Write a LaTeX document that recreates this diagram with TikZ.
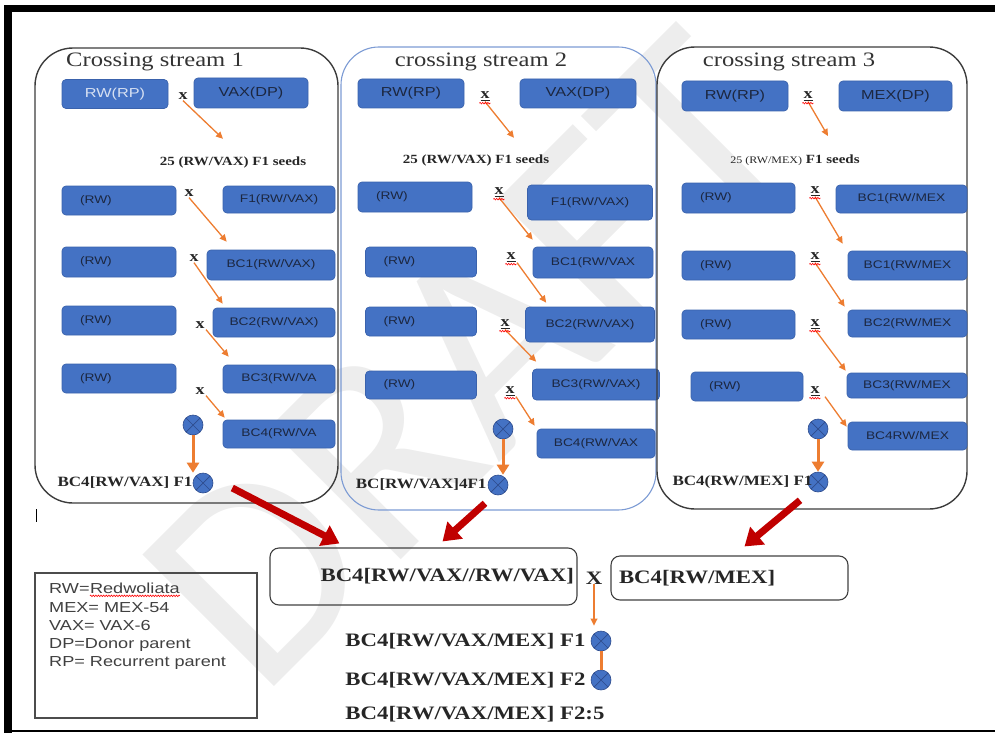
\documentclass[tikz,border=0pt]{standalone}
\usepackage{fontspec}
\setmainfont{Liberation Serif}[FakeStretch=1.2]
\newfontfamily\boxfont{Liberation Sans}[FakeStretch=1.25]
\newfontfamily\markfont{Carlito}
\usepackage{tikz}
\usetikzlibrary{positioning,arrows.meta,decorations.pathmorphing}
\definecolor{boxblue}{HTML}{4472C4}
\definecolor{boxedge}{HTML}{3A62AC}
\definecolor{boxtext}{HTML}{1C2740}
\definecolor{paletext}{HTML}{D6E0F2}
\definecolor{crossorange}{HTML}{ED7D31}
\definecolor{circedge}{HTML}{2E4C8C}
\definecolor{arrowred}{HTML}{C00000}
\definecolor{streamline}{HTML}{3C3C3C}
\definecolor{streamblue}{HTML}{7C9BD4}
\newcommand{\spellmark}[1]{
\draw[spell] ([yshift=-1.5pt]#1.south west) -- ([yshift=-1.5pt]#1.south east);
}

\begin{document}
\begin{tikzpicture}[x=1pt, y=-1pt,
  inbox/.style={draw=boxedge, fill=boxblue, line width=0.7pt, rounded corners=4pt,
    inner sep=0pt, text=boxtext, font=\boxfont\fontsize{11}{12}\selectfont},
  sized/.style 2 args={minimum width=#1pt, minimum height=#2pt},
  topbox/.style={inbox, font=\boxfont\fontsize{13}{15}\selectfont},
  rwbox/.style={inbox, align=left, inner xsep=18pt, text width=#1pt},
  streamframe/.style={draw=streamline, line width=1.4pt, rounded corners=38pt},
  title/.style={text=black!80, font=\fontsize{20.5}{22}\selectfont},
  seedtext/.style={text=black!85, font=\bfseries\fontsize{12.5}{14}\selectfont},
  crossmark/.style={inner sep=1pt, text=black!85, font=\bfseries\fontsize{15}{15}\selectfont},
  streamlabel/.style={inner sep=0pt, text=black!85, font=\bfseries\fontsize{14.2}{16}\selectfont},
  botlabel/.style={inner sep=0pt, text=black!85, font=\bfseries\fontsize{19}{21}\selectfont},
  botbox/.style={draw=black!75, line width=1.1pt, rounded corners=9pt, inner ysep=0pt,
    text=black!85, font=\bfseries\fontsize{19}{21}\selectfont},
  seedmark/.style={circle, fill=boxblue, draw=circedge, line width=0.6pt,
    minimum size=20pt, inner sep=0pt,
    path picture={\draw[circedge, line width=0.7pt]
      (path picture bounding box.north west) -- (path picture bounding box.south east)
      (path picture bounding box.south west) -- (path picture bounding box.north east);}},
  thinarrow/.style={draw=crossorange, line width=1.3pt, -{Triangle[length=7pt,width=6.5pt]}},
  fatarrow/.style={draw=crossorange, line width=3pt, -{Triangle[length=10pt,width=12pt]}},
  redarrow/.style={draw=arrowred, line width=7pt, -{Triangle[length=17pt,width=22pt]}},
  spell/.style={draw=red, line width=0.6pt, decorate,
    decoration={snake, amplitude=0.8pt, segment length=2.6pt}},
  legendtext/.style={anchor=west, inner sep=0pt, text=black!75,
    font=\boxfont\fontsize{14.5}{16}\selectfont},
  watermark/.style={text=black!7, rotate=45, inner sep=0pt,
    font=\markfont\fontsize{290}{290}\selectfont}]
\useasboundingbox (0,0) rectangle (995,733);
\node[watermark] at (470,360) (wm) {DRAFT};
% page frame
\draw[line width=7.5pt] (995,8.5) -- (8,8.5) -- (8,733);
\draw[line width=2.5pt] (8,731) -- (995,731);
\draw[line width=0.8pt] (36,509) -- (36,522);

% crossing stream 1
\draw[streamframe] (35,48) rectangle (338,503);
\node[title] at (155,62) (s1title) {Crossing stream 1};
\node[topbox, sized={106}{29}, text=paletext] at (115,94) (s1rp) {RW(RP)};
\node[topbox, sized={114}{30}] at (251,93) (s1dp) {VAX(DP)};
\node[crossmark] at (183,96) (s1x0) {x};
\node[seedtext] at (233,162) (s1seeds) {25 (RW/VAX) F1 seeds};
\node[rwbox=78, minimum height=29pt] at (119,200.5) (s1rw1) {(RW)};
\node[inbox, sized={112}{27}] at (279,199.5) (s1f1) {F1(RW/VAX)};
\node[crossmark] at (189,193) (s1x1) {x};
\node[rwbox=78, minimum height=30pt] at (119,262) (s1rw2) {(RW)};
\node[inbox, sized={128}{30}] at (271,265) (s1bc1) {BC1(RW/VAX)};
\node[crossmark] at (194,258) (s1x2) {x};
\node[rwbox=78, minimum height=29pt] at (119,320.5) (s1rw3) {(RW)};
\node[inbox, sized={122}{29}] at (274,322.5) (s1bc2) {BC2(RW/VAX)};
\node[crossmark] at (200,325) (s1x3) {x};
\node[rwbox=78, minimum height=29pt] at (119,378.5) (s1rw4) {(RW)};
\node[inbox, sized={112}{28}] at (279,379) (s1bc3) {BC3(RW/VA};
\node[crossmark] at (200,391) (s1x4) {x};
\node[inbox, sized={112}{28}] at (279,434) (s1bc4) {BC4(RW/VA};
\node[seedmark] at (193,425) (s1c1) {};
\node[seedmark] at (203,483) (s1c2) {};
\node[streamlabel, left=0pt of s1c2] (s1lab) {BC4[RW/VAX] F1};
\draw[thinarrow] (s1x0.south) -- ([xshift=-10pt,yshift=14pt]s1seeds.north);
\draw[thinarrow] (s1x1.south) -- ([xshift=20pt,yshift=8pt]s1bc1.north west);
\draw[thinarrow] (s1x2.south) -- ([xshift=10pt,yshift=4pt]s1bc2.north west);
\draw[thinarrow] ([xshift=6pt]s1x3.south) -- ([xshift=6pt,yshift=8pt]s1bc3.north west);
\draw[thinarrow] ([xshift=6pt]s1x4.south) -- ([xshift=2pt,yshift=2pt]s1bc4.north west);
\draw[fatarrow] (s1c1.south) -- (s1c1.south |- s1c2.north);

% crossing stream 2
\draw[streamframe, draw=streamblue, line width=1.1pt] (341,47) rectangle (656,510);
\node[title] at (481,62) (s2title) {crossing stream 2};
\node[topbox, sized={106}{29}] at (411,93.5) (s2rp) {RW(RP)};
\node[topbox, sized={116}{29}] at (578,93.5) (s2dp) {VAX(DP)};
\node[crossmark] at (485,96) (s2x0) {\underline{x}};
\node[seedtext] at (476,160) (s2seeds) {25 (RW/VAX) F1 seeds};
\node[rwbox=78, minimum height=30pt] at (415,197) (s2rw1) {(RW)};
\node[inbox, sized={125}{35}] at (590,202.5) (s2f1) {F1(RW/VAX)};
\node[crossmark] at (499,192) (s2x1) {\underline{x}};
\node[rwbox=75, minimum height=30pt] at (421,262) (s2rw2) {(RW)};
\node[inbox, sized={120}{31}] at (593,262.5) (s2bc1) {BC1(RW/VAX};
\node[crossmark] at (511,257) (s2x2) {\underline{x}};
\node[rwbox=75, minimum height=29pt] at (421,321.5) (s2rw3) {(RW)};
\node[inbox, sized={129}{35}] at (590,324.5) (s2bc2) {BC2(RW/VAX)};
\node[crossmark] at (505,324) (s2x3) {\underline{x}};
\node[rwbox=75, minimum height=28pt] at (421,385) (s2rw4) {(RW)};
\node[inbox, sized={127}{31}] at (596,384.5) (s2bc3) {BC3(RW/VAX)};
\node[crossmark] at (510,391) (s2x4) {\underline{x}};
\node[inbox, sized={118}{29}] at (596,443.5) (s2bc4) {BC4(RW/VAX};
\node[seedmark] at (503,429) (s2c1) {};
\node[seedmark] at (498,485) (s2c2) {};
\node[streamlabel, left=1pt of s2c2] (s2lab) {BC[RW/VAX]4F1};
\draw[thinarrow] (s2x0.south) -- ([xshift=38pt,yshift=13pt]s2seeds.north);
\draw[thinarrow] (s2x1.south) -- ([xshift=0pt,yshift=7pt]s2bc1.north west);
\draw[thinarrow] ([xshift=6pt]s2x2.south) -- ([xshift=21pt,yshift=4pt]s2bc2.north west);
\draw[thinarrow] (s2x3.south) -- ([xshift=4pt,yshift=7pt]s2bc3.north west);
\draw[thinarrow] ([xshift=6pt]s2x4.south) -- ([xshift=-2pt,yshift=3pt]s2bc4.north west);
\draw[fatarrow] (s2c1.south) -- (s2c1.south |- s2c2.north);
\spellmark{s2x0}
\spellmark{s2x1}
\spellmark{s2x2}
\spellmark{s2x3}
\spellmark{s2x4}

% crossing stream 3
\draw[streamframe] (657,47) rectangle (967,509);
\node[title] at (789,62) (s3title) {crossing stream 3};
\node[topbox, sized={106}{30}] at (735,96) (s3rp) {RW(RP)};
\node[topbox, sized={113}{30}] at (895.5,96) (s3dp) {MEX(DP)};
\node[crossmark] at (808,96) (s3x0) {\underline{x}};
\node[seedtext] at (795,160) (s3seeds) {{\mdseries\fontsize{10}{12}\selectfont 25 (RW/MEX)} F1 seeds};
\node[rwbox=77, minimum height=30pt] at (738.5,198) (s3rw1) {(RW)};
\node[inbox, sized={131}{28}] at (901.5,199) (s3bc1) {BC1(RW/MEX};
\node[crossmark] at (815,191) (s3x1) {\underline{x}};
\node[rwbox=77, minimum height=29pt] at (738.5,265.5) (s3rw2) {(RW)};
\node[inbox, sized={119}{29}] at (907.5,265.5) (s3bc1b) {BC1(RW/MEX};
\node[crossmark] at (815,257) (s3x2) {\underline{x}};
\node[rwbox=77, minimum height=29pt] at (738.5,324.5) (s3rw3) {(RW)};
\node[inbox, sized={119}{27}] at (907.5,323.5) (s3bc2) {BC2(RW/MEX};
\node[crossmark] at (815,324) (s3x3) {\underline{x}};
\node[rwbox=76, minimum height=29pt] at (747,386.5) (s3rw4) {(RW)};
\node[inbox, sized={120}{25}] at (907,385.5) (s3bc3) {BC3(RW/MEX};
\node[crossmark] at (815,391) (s3x4) {\underline{x}};
\node[inbox, sized={119}{28}] at (907.5,436) (s3bc4) {BC4RW/MEX};
\node[seedmark] at (818,429) (s3c1) {};
\node[seedmark] at (818,482) (s3c2) {};
\node[streamlabel, left=-5pt of s3c2] (s3lab) {BC4(RW/MEX] F1};
\draw[thinarrow] (s3x0.south) -- ([xshift=33pt,yshift=15pt]s3seeds.north);
\draw[thinarrow] (s3x1.south) -- ([xshift=-5pt,yshift=7pt]s3bc1b.north west);
\draw[thinarrow] (s3x2.south) -- ([xshift=-3pt,yshift=3pt]s3bc2.north west);
\draw[thinarrow] (s3x3.south) -- ([xshift=-1pt,yshift=2pt]s3bc3.north west);
\draw[thinarrow] ([xshift=10pt]s3x4.south) -- ([xshift=-1pt,yshift=-5pt]s3bc4.north west);
\draw[fatarrow] (s3c1.south) -- (s3c1.south |- s3c2.north);
\spellmark{s3x0}
\spellmark{s3x1}
\spellmark{s3x2}
\spellmark{s3x3}
\spellmark{s3x4}

% final crosses
\node[botbox, minimum height=57pt, text width=301pt, align=right, inner xsep=3pt]
  at (423.5,576.5) (bx1) {BC4[RW/VAX//RW/VAX]};
\node[botbox, minimum height=44pt, text width=221pt, align=left, inner xsep=8pt]
  at (729.5,578) (bx2) {BC4[RW/MEX]};
\node[botlabel] at (594,578) (bX) {X};
\node[seedmark] at (601,641) (bc1) {};
\node[seedmark] at (601,680) (bc2) {};
\node[botlabel, left=5pt of bc1] (bl1) {BC4[RW/VAX/MEX] F1};
\node[botlabel, left=5pt of bc2] (bl2) {BC4[RW/VAX/MEX] F2};
\node[botlabel, anchor=west] at ([yshift=-34pt]bl2.west) (bl3) {BC4[RW/VAX/MEX] F2:5};
\draw[thinarrow, line width=2pt, shorten >=5pt] (bX.south) -- (bX.south |- bc1.north);
\draw[crossorange, line width=3pt] (bc1.south) -- (bc2.north);
\draw[redarrow] ([xshift=19pt,yshift=-5pt]s1c2.east) -- ([xshift=70pt,yshift=4pt]bx1.north west);
\draw[redarrow] ([xshift=-13pt,yshift=-8pt]s2c2.south) -- ([xshift=19pt,yshift=6pt]bx1.north);
\draw[redarrow] ([xshift=-18pt,yshift=-8pt]s3c2.south) -- ([xshift=15pt,yshift=9pt]bx2.north);

% legend
\draw[draw=black!70, line width=1.4pt] (35,573) rectangle (257,718);
\node[legendtext] at (49,589) (lg1) {RW=};
\node[legendtext, right=0pt of lg1.base east, anchor=base west] (lg1b) {Redwoliata};
\node[legendtext] at (49,608) (lg2) {MEX= MEX-54};
\node[legendtext] at (49,626) (lg3) {VAX= VAX-6};
\node[legendtext] at (49,645) (lg4) {DP=Donor parent};
\node[legendtext] at (49,663) (lg5) {RP= Recurrent parent};
\spellmark{lg1b}
\end{tikzpicture}
\end{document}
